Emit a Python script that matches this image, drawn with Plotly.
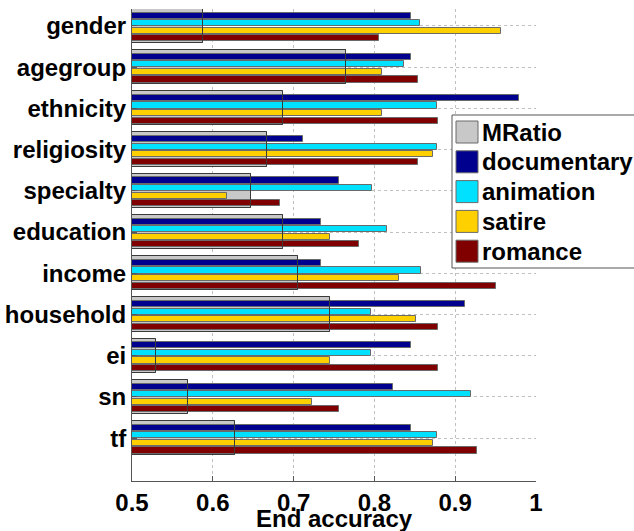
import plotly.graph_objects as go

# Feature groups, top to bottom
features = ["gender", "agegroup", "ethnicity", "religiosity", "specialty",
            "education", "income", "household", "ei", "sn", "tf"]

# Baseline ratio per feature
mratio = [0.588, 0.765, 0.687, 0.667, 0.647, 0.687, 0.706, 0.745, 0.530, 0.569, 0.628]

# End accuracy per genre
documentary = [0.845, 0.845, 0.979, 0.712, 0.756, 0.734, 0.734, 0.912, 0.845, 0.823, 0.845]
animation   = [0.857, 0.837, 0.878, 0.878, 0.797, 0.816, 0.858, 0.796, 0.796, 0.919, 0.878]
satire      = [0.957, 0.809, 0.809, 0.873, 0.617, 0.745, 0.830, 0.851, 0.745, 0.723, 0.873]
romance     = [0.806, 0.854, 0.879, 0.854, 0.683, 0.781, 0.951, 0.879, 0.879, 0.756, 0.927]

x_ticks = [0.5, 0.6, 0.7, 0.8, 0.9, 1.0]
x_tick_labels = ["0.5", "0.6", "0.7", "0.8", "0.9", "1"]
x_title = "End accuracy"

genres = ["documentary", "animation", "satire", "romance"]
genre_values = [documentary, animation, satire, romance]
genre_colors = ["#00008f", "#00e0ff", "#ffd000", "#800000"]
mratio_color = "#c8c8c8"

pos = list(range(len(features)))
FONT = "Liberation Sans"
EDGE = "#6a6a6a"
BOLD24 = dict(family=FONT, size=24, color="black", weight="bold")

fig = go.Figure()

# wide MRatio bar behind each group
fig.add_trace(go.Bar(
    y=pos, x=mratio, orientation="h", name="MRatio",
    width=0.83, offset=-0.415,
    marker=dict(color=mratio_color, line=dict(color=EDGE, width=1)),
    showlegend=False,
))

# the four genre bars, stacked inside the group
bar_w = 0.15
centers = [-0.25, -0.067, 0.117, 0.30]
for name, vals, col, c in zip(genres, genre_values, genre_colors, centers):
    fig.add_trace(go.Bar(
        y=pos, x=vals, orientation="h", name=name,
        width=bar_w, offset=c - bar_w / 2,
        marker=dict(color=col, line=dict(color=EDGE, width=1)),
        showlegend=False,
    ))

# MRatio outline drawn over the genre bars
fig.add_trace(go.Bar(
    y=pos, x=mratio, orientation="h",
    width=0.83, offset=-0.415,
    marker=dict(color="rgba(0,0,0,0)", line=dict(color="#3a3a3a", width=1)),
    showlegend=False, hoverinfo="skip",
))

# plot-area geometry in pixels (for the boxed legend and axis title)
W, H = 634, 531
L, R, T, B = 132, 98, 9, 50
pw, ph = W - L - R, H - T - B


def px_to_paper(px, py):
    return (px - L) / pw, (H - B - py) / ph


shapes = []
annotations = []

# legend box
x0, y0 = px_to_paper(452, 115)
x1, y1 = px_to_paper(640, 268)
shapes.append(dict(type="rect", xref="paper", yref="paper", x0=x0, y0=y0, x1=x1, y1=y1,
                   fillcolor="white", line=dict(color="#555555", width=1), layer="above"))

leg_names = ["MRatio"] + genres
leg_colors = [mratio_color] + genre_colors
row_top = 121
row_step = 29.8
for i, (nm, col) in enumerate(zip(leg_names, leg_colors)):
    top = row_top + i * row_step
    sx0, sy0 = px_to_paper(456, top)
    sx1, sy1 = px_to_paper(478, top + 22)
    shapes.append(dict(type="rect", xref="paper", yref="paper", x0=sx0, y0=sy0, x1=sx1, y1=sy1,
                       fillcolor=col, line=dict(color=EDGE, width=1), layer="above"))
    tx, ty = px_to_paper(480, top + 11)
    annotations.append(dict(xref="paper", yref="paper", x=tx, y=ty, text=nm,
                            showarrow=False, xanchor="left", yanchor="middle",
                            font=BOLD24))

# x-axis title in the bottom margin
_, ty = px_to_paper(0, 503)
annotations.append(dict(xref="paper", yref="paper", x=0.5, y=ty, text=x_title,
                        showarrow=False, xanchor="center", yanchor="top",
                        font=BOLD24))

fig.update_layout(
    width=W, height=H,
    margin=dict(l=L, r=R, t=T, b=B, autoexpand=False),
    barmode="overlay",
    bargap=0,
    plot_bgcolor="white",
    paper_bgcolor="white",
    shapes=shapes,
    annotations=annotations,
    font=BOLD24,
    xaxis=dict(
        range=[0.5, 1.0],
        tickvals=x_ticks, ticktext=x_tick_labels,
        tickfont=BOLD24,
        showgrid=True, gridcolor="#c0c0c0", griddash="dot", gridwidth=1,
        showline=True, linecolor="#555555", linewidth=1, mirror=False,
        ticks="inside", ticklen=5, tickcolor="#555555",
        zeroline=False,
        automargin=False,
    ),
    yaxis=dict(
        range=[11.04, -0.41],
        tickvals=pos, ticktext=features,
        tickfont=BOLD24,
        showgrid=True, gridcolor="#c0c0c0", griddash="dot", gridwidth=1,
        showline=True, linecolor="#555555", linewidth=1,
        ticks="inside", ticklen=5, tickcolor="#555555",
        zeroline=False,
        automargin=False,
    ),
)

fig.write_html("out.html")
